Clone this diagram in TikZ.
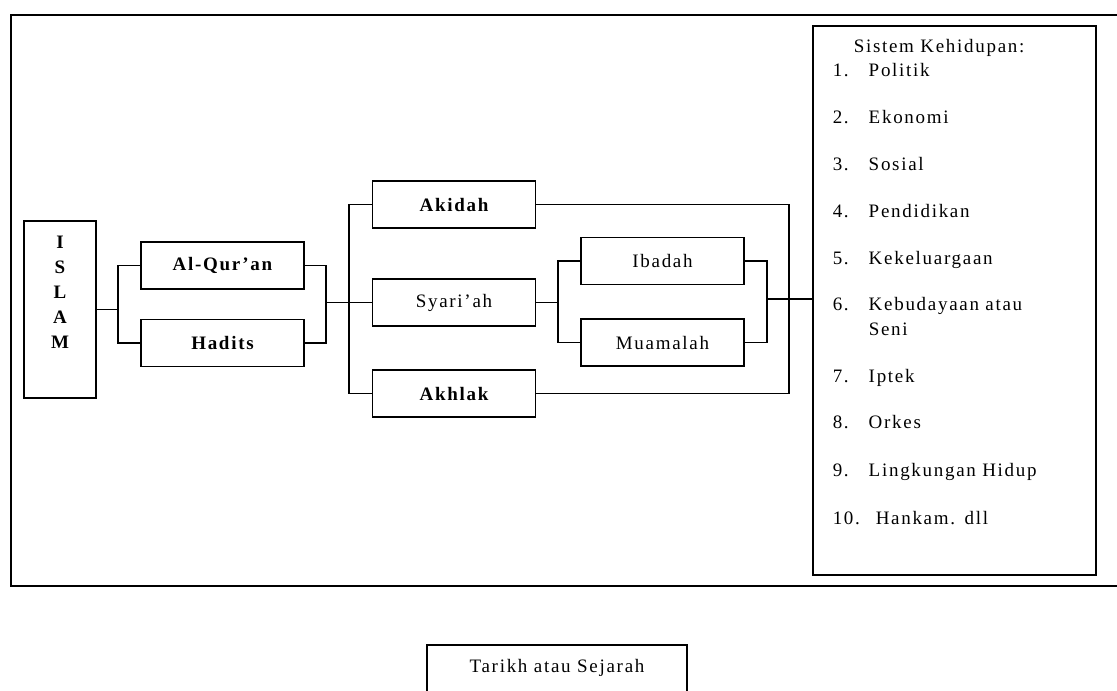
\documentclass[tikz,border=0pt]{standalone}
\usepackage{fontspec}
\setmainfont{Liberation Serif}[LetterSpace=9]
\usepackage{tikz}

\begin{document}
\begin{tikzpicture}[x=1pt,y=-1pt,
		font=\fontsize{19}{25}\selectfont,
		heavy/.style={font=\fontsize{19}{25}\selectfont\bfseries},
		box/.style={draw,line width=1.5pt,inner sep=0pt,minimum width=163pt,minimum height=47pt},
		link/.style={line width=1.6pt}]
	\useasboundingbox (0,0) rectangle (1117,691);
	\clip (0,0) rectangle (1117,691);
	% outer frame
	\draw[link] (1117,15) -- (11,15) -- (11,586) -- (1117,586);
	% sources
	\node[box,heavy,minimum width=72pt,text width=72pt,align=center,
		text height=27pt,text depth=150pt] (islam) at (60,309.5) {I\\S\\L\\A\\M};
	\node[box,heavy](quran) at (222.5,265.5) {Al-Qur’an};
	\node[box,heavy](hadits) at (222.5,343) {Hadits};
	% branches
	\node[box,heavy](akidah) at (454,204.5) {Akidah};
	\node[box](syariah) at (454,302.5) {Syari’ah};
	\node[box,heavy](akhlak) at (454,393.5) {Akhlak};
	\node[box](ibadah) at (662.5,261) {Ibadah};
	\node[box](muamalah) at (662.5,342.5) {Muamalah};
	% systems of life
	\node[draw,line width=1.5pt,anchor=north west,inner xsep=20pt,inner ysep=0pt,
		text width=243pt,align=left,text height=27pt,text depth=522pt] (sistem) at (812,25) {
		\hspace*{21pt}Sistem Kehidupan:\\[-1pt]
		\makebox[36pt][l]{1.}Politik\\[22pt]
		\makebox[36pt][l]{2.}Ekonomi\\[22pt]
		\makebox[36pt][l]{3.}Sosial\\[22pt]
		\makebox[36pt][l]{4.}Pendidikan\\[22pt]
		\makebox[36pt][l]{5.}Kekeluargaan\\[21pt]
		\makebox[36pt][l]{6.}Kebudayaan atau\\
		\hspace*{36pt}Seni\\[22pt]
		\makebox[36pt][l]{7.}Iptek\\[21pt]
		\makebox[36pt][l]{8.}Orkes\\[23pt]
		\makebox[36pt][l]{9.}Lingkungan Hidup\\[23pt]
		\makebox[43pt][l]{10.}Hankam. dll};
	\node[draw,line width=1.5pt,anchor=north,minimum width=260pt,inner ysep=0pt,
		text height=28pt,text depth=40pt] (sejarah) at (557,644) {Tarikh atau Sejarah};
	% forks
	\coordinate (qjoin) at (118,309.5);
	\coordinate (qsplit) at (326,302.5);
	\coordinate (ajoin) at (349,302.5);
	\coordinate (ijoin) at (558,302.5);
	\coordinate (isplit) at (767,299);
	\coordinate (asplit) at (789,299);
	\draw[link] (islam.east) -- (qjoin);
	\draw[link] (quran.west) -| (qjoin) |- (hadits.west);
	\draw[link] (quran.east) -| (qsplit) |- (hadits.east);
	\draw[link] (qsplit) -- (syariah.west);
	\draw[link] (akidah.west) -| (ajoin) |- (akhlak.west);
	\draw[link] (syariah.east) -- (ijoin);
	\draw[link] (ibadah.west) -| (ijoin) |- (muamalah.west);
	\draw[link] (ibadah.east) -| (isplit) |- (muamalah.east);
	\draw[link] (akidah.east) -| (asplit) |- (akhlak.east);
	\draw[link] (isplit) -- (isplit -| sistem.west);
\end{tikzpicture}
\end{document}
